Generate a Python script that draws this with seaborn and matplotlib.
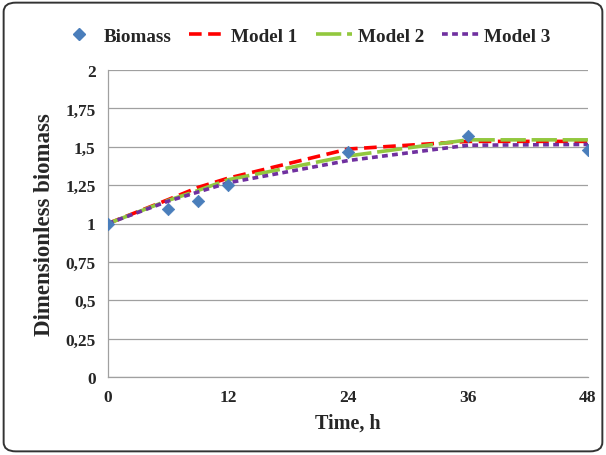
import numpy as np
import pandas as pd
import matplotlib
matplotlib.use("Agg")
import matplotlib.pyplot as plt
from matplotlib.patches import FancyBboxPatch
from matplotlib.lines import Line2D
import seaborn as sns

# Sampling times (h)
time_h = [0, 6, 9, 12, 24, 36, 48]

# Measured dimensionless biomass
biomass = [1.00, 1.095, 1.145, 1.25, 1.465, 1.57, 1.48]

# Model predictions at the same times
model1 = [1.00, 1.155, 1.235, 1.295, 1.485, 1.535, 1.535]
model2 = [1.00, 1.150, 1.215, 1.285, 1.440, 1.545, 1.545]
model3 = [1.00, 1.145, 1.205, 1.265, 1.410, 1.510, 1.515]

x_ticks = [0, 12, 24, 36, 48]
y_ticks = [0, 0.25, 0.5, 0.75, 1, 1.25, 1.5, 1.75, 2]
y_tick_labels = ["0", "0,25", "0,5", "0,75", "1", "1,25", "1,5", "1,75", "2"]

sns.set_theme(style="white")
plt.rcParams["font.family"] = ["Liberation Serif", "DejaVu Serif"]
plt.rcParams["font.weight"] = "bold"

models = pd.DataFrame({
    "time": time_h * 3,
    "value": model1 + model2 + model3,
    "series": ["Model 1"] * 7 + ["Model 2"] * 7 + ["Model 3"] * 7,
})
measured = pd.DataFrame({"time": time_h, "value": biomass})

colors = {"Model 1": "#FF0000", "Model 2": "#92C83E", "Model 3": "#7030A0"}
dashes = {"Model 1": (3.5, 1.8), "Model 2": (7, 1.6), "Model 3": (1.6, 1.2)}

fig = plt.figure(figsize=(6.06, 4.56), dpi=100)
ax = fig.add_axes([108 / 606, 1 - 378 / 456, 480 / 606, 307 / 456])

sns.lineplot(data=models, x="time", y="value", hue="series", style="series",
             palette=colors, dashes=dashes, linewidth=2.6, ax=ax, legend=False)
sns.scatterplot(data=measured, x="time", y="value", marker="D", s=40,
                color="#4A7EBB", edgecolor="#4A7EBB", ax=ax, zorder=5, legend=False)

ax.set_xlim(0, 48)
ax.set_ylim(0, 2)
ax.set_xticks(x_ticks)
ax.set_xticklabels([str(t) for t in x_ticks])
ax.set_yticks(y_ticks)
ax.set_yticklabels(y_tick_labels)
ax.yaxis.grid(True, color="#A0A0A0", linewidth=0.9)
ax.xaxis.grid(False)
ax.set_axisbelow(True)
for side in ["top", "right"]:
    ax.spines[side].set_visible(False)
for side in ["left", "bottom"]:
    ax.spines[side].set_color("#A0A0A0")
    ax.spines[side].set_linewidth(0.9)
ax.tick_params(axis="both", which="both", direction="out", length=5,
               color="#A0A0A0", width=0.9, labelsize=12.5, pad=4)
for lbl in ax.get_xticklabels() + ax.get_yticklabels():
    lbl.set_fontweight("bold")
ax.set_xlabel("Time, h", fontsize=14.5, fontweight="bold", labelpad=5)
ax.set_ylabel("Dimensionless biomass", fontsize=16.5, fontweight="bold", labelpad=7)

handles = [
    Line2D([], [], marker="D", color="#4A7EBB", linestyle="none", markersize=6),
    Line2D([], [], color=colors["Model 1"], linewidth=2.6, dashes=dashes["Model 1"]),
    Line2D([], [], color=colors["Model 2"], linewidth=2.6, dashes=dashes["Model 2"]),
    Line2D([], [], color=colors["Model 3"], linewidth=2.6, dashes=dashes["Model 3"]),
]
fig.legend(handles, ["Biomass", "Model 1", "Model 2", "Model 3"],
           loc="center", bbox_to_anchor=(0.505, 1 - 37 / 456), ncol=4, frameon=False,
           prop={"weight": "bold", "size": 13.75}, handlelength=1.9,
           handletextpad=0.3, columnspacing=0.95)

border = FancyBboxPatch((0.006, 0.008), 0.988, 0.984, transform=fig.transFigure,
                        boxstyle="round,pad=0,rounding_size=0.02",
                        facecolor="none", edgecolor="#333333", linewidth=1.4)
fig.patches.append(border)

fig.savefig("out.png", dpi=100)
